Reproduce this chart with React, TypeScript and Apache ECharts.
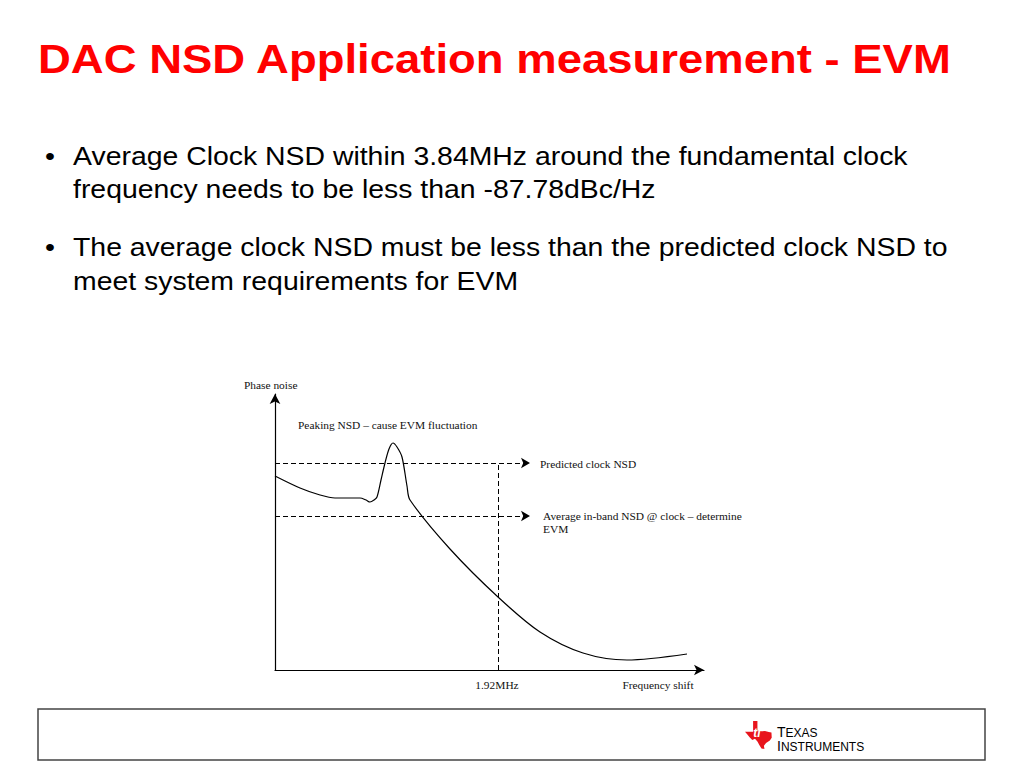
import React, { useEffect, useRef } from "react";
import * as echarts from "echarts";

// Curve (arbitrary units: x = frequency shift, y = phase noise)
const curveX = [0, 25, 45, 60, 85, 91, 95, 99, 102, 106, 110, 114, 118, 122, 127, 132, 135, 175, 223, 265, 308, 352, 412];
const curveY = [194, 182, 175, 172, 172, 170, 168, 170, 173, 190, 207, 221, 227, 223, 213, 184, 170, 121, 73, 38, 17, 10, 16];

const predictedLevel = 207;
const averageLevel = 154;
const markerX = 223;
const arrowEndX = 255;

const titleText = "DAC NSD Application measurement - EVM";
const bullet1 = ["Average Clock NSD within 3.84MHz around the fundamental clock", "frequency needs to be less than -87.78dBc/Hz"];
const bullet2 = ["The average clock NSD must be less than the predicted clock NSD to", "meet system requirements for EVM"];

const texasPath =
  "M30 0 L46 0 L46 33 L58 37 L74 36 L88 39 L98 41 L99 60 L92 70 L78 79 L70 88 L72 100 L61 98 L53 86 L46 73 L37 63 L27 68 L17 58 L8 47 L0 38 L30 38 Z";

echarts.graphic.registerShape("texas", echarts.graphic.extendPath(texasPath, {}) as any);

export default function App() {
  const ref = useRef<HTMLDivElement>(null);
  useEffect(() => {
    if (!ref.current) return;
    const chart = echarts.init(ref.current, null, { renderer: "svg" });
    const serif = "Liberation Serif";
    const sans = "Liberation Sans";
    const small = { fontFamily: serif, fontSize: 11.4, fill: "#111" };
    const body = { fontFamily: sans, fontSize: 26, fill: "#000", verticalAlign: "middle" };
    const bodyScale = 1.093;
    const logoRich = {
      b: { fontFamily: sans, fontSize: 14, lineHeight: 14, fill: "#000", verticalAlign: "bottom" },
      s: { fontFamily: sans, fontSize: 12, lineHeight: 14, fill: "#000", verticalAlign: "bottom" },
    };
    chart.setOption({
      animation: false,
      backgroundColor: "#fff",
      grid: { left: 275, top: 394, width: 429, height: 276 },
      xAxis: {
        type: "value",
        min: 0,
        max: 429,
        axisLine: { show: true, symbol: ["none", "arrow"], symbolSize: [8, 10], lineStyle: { color: "#000", width: 1.2 } },
        axisTick: { show: false },
        axisLabel: { show: false },
        splitLine: { show: false },
      },
      yAxis: {
        type: "value",
        min: 0,
        max: 276,
        axisLine: { show: true, symbol: ["none", "arrow"], symbolSize: [8, 10], lineStyle: { color: "#000", width: 1.2 } },
        axisTick: { show: false },
        axisLabel: { show: false },
        splitLine: { show: false },
      },
      series: [
        {
          type: "line",
          data: curveX.map((x, i) => [x, curveY[i]]),
          smooth: 0.3,
          showSymbol: false,
          lineStyle: { color: "#000", width: 1.2 },
          silent: true,
          markLine: {
            silent: true,
            symbol: ["none", "arrow"],
            symbolSize: [8, 9],
            label: { show: false },
            lineStyle: { color: "#000", width: 1, type: [5, 3] },
            data: [
              [{ coord: [0, predictedLevel] }, { coord: [arrowEndX, predictedLevel] }],
              [{ coord: [0, averageLevel] }, { coord: [arrowEndX, averageLevel] }],
              [
                { coord: [markerX, 0], symbol: "none" },
                { coord: [markerX, predictedLevel], symbol: "none" },
              ],
            ],
          },
        },
      ],
      graphic: [
        { type: "text", x: 38, y: 59, scaleX: 1.137, style: { text: titleText, fontFamily: sans, fontWeight: "bold", fontSize: 40, fill: "#ff0000", verticalAlign: "middle" } },
        { type: "text", x: 45, y: 156, scaleX: bodyScale, style: { ...body, text: "•" } },
        { type: "text", x: 73, y: 156, scaleX: bodyScale, style: { ...body, text: bullet1[0] } },
        { type: "text", x: 73, y: 189, scaleX: bodyScale, style: { ...body, text: bullet1[1] } },
        { type: "text", x: 45, y: 247, scaleX: bodyScale, style: { ...body, text: "•" } },
        { type: "text", x: 73, y: 247, scaleX: bodyScale, style: { ...body, text: bullet2[0] } },
        { type: "text", x: 73, y: 281, scaleX: bodyScale, style: { ...body, text: bullet2[1] } },
        { type: "text", x: 244, y: 385, style: { ...small, text: "Phase noise", verticalAlign: "middle" } },
        { type: "text", x: 298, y: 425, style: { ...small, text: "Peaking NSD – cause EVM fluctuation", verticalAlign: "middle" } },
        { type: "text", x: 540, y: 464, style: { ...small, text: "Predicted clock NSD", verticalAlign: "middle" } },
        { type: "text", x: 543, y: 516, style: { ...small, text: "Average in-band NSD @ clock – determine", verticalAlign: "middle" } },
        { type: "text", x: 543, y: 529, style: { ...small, text: "EVM", verticalAlign: "middle" } },
        { type: "text", x: 497, y: 685, style: { ...small, text: "1.92MHz", align: "center", verticalAlign: "middle" } },
        { type: "text", x: 658, y: 685, style: { ...small, text: "Frequency shift", align: "center", verticalAlign: "middle" } },
        { type: "rect", shape: { x: 38, y: 709, width: 947, height: 51 }, style: { fill: "none", stroke: "#444", lineWidth: 1.5 } },
        { type: "texas", x: 745, y: 721, scaleX: 0.27, scaleY: 0.28, style: { fill: "#e8141c" } },
        { type: "text", x: 757, y: 733, style: { text: "ti", fontFamily: sans, fontStyle: "italic", fontWeight: "bold", fontSize: 12, fill: "#fff", align: "center", verticalAlign: "middle" } },
        { type: "text", x: 777, y: 725, style: { text: "{b|T}{s|EXAS}\n{b|I}{s|NSTRUMENTS}", verticalAlign: "top", rich: logoRich } },
      ],
    });
    return () => chart.dispose();
  }, []);
  return <div ref={ref} style={{ position: "fixed", left: 0, top: 0, width: 1024, height: 768 }} />;
}
